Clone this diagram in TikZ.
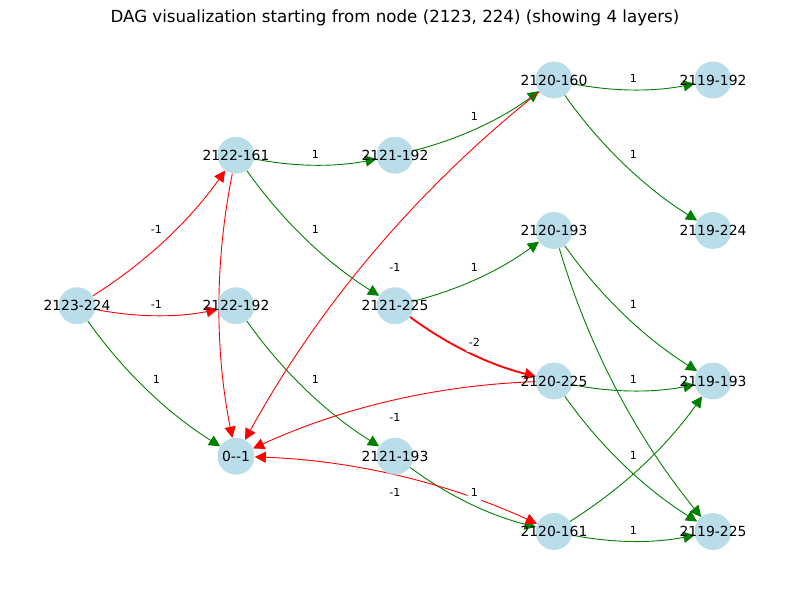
\documentclass[tikz,border=0pt]{standalone}
\usepackage{fontspec}
\setmainfont{DejaVu Sans}
\usetikzlibrary{arrows.meta,calc,backgrounds}
\definecolor{nodeblue}{RGB}{173,216,230}
\definecolor{mplgreen}{RGB}{0,128,0}
\begin{document}
\begin{tikzpicture}[x=0.72pt,y=-0.72pt,
  dagnode/.style={circle,fill=nodeblue,fill opacity=0.85,minimum size=26.6pt,inner sep=0pt},
  nlabel/.style={font=\fontsize{10}{12}\selectfont,inner sep=0pt},
  elabel/.style={fill=white,rounded corners=2pt,inner xsep=2.4pt,inner ysep=2.4pt,
    text height=6pt,text depth=1.8pt,font=\fontsize{8}{9.6}\selectfont},
  tipstyle/.style={-{Triangle[length=8pt,width=8pt]}},
  gedge/.style={draw=mplgreen,line width=0.65pt,tipstyle,bend right=11.3,looseness=0.87},
  redge/.style={draw=red,line width=0.65pt,tipstyle,bend right=11.3,looseness=0.87},
  redgethick/.style={draw=red,line width=1.3pt,tipstyle,bend right=11.3,looseness=0.87}
]
\useasboundingbox (0,0) rectangle (790,590);
% nodes
\node[dagnode,label={[nlabel]center:2123-224}] (a)  at (77,305.75) {};
\node[dagnode,label={[nlabel]center:2122-161}] (b1) at (236,155.25) {};
\node[dagnode,label={[nlabel]center:2122-192}] (b2) at (236,305.75) {};
\node[dagnode,label={[nlabel]center:0-{}-1}]   (z)  at (236,456.25) {};
\node[dagnode,label={[nlabel]center:2121-192}] (c1) at (395,155.25) {};
\node[dagnode,label={[nlabel]center:2121-225}] (c2) at (395,305.75) {};
\node[dagnode,label={[nlabel]center:2121-193}] (c3) at (395,456.25) {};
\node[dagnode,label={[nlabel]center:2120-160}] (d1) at (554,80) {};
\node[dagnode,label={[nlabel]center:2120-193}] (d2) at (554,230.5) {};
\node[dagnode,label={[nlabel]center:2120-225}] (d3) at (554,381) {};
\node[dagnode,label={[nlabel]center:2120-161}] (d4) at (554,531.5) {};
\node[dagnode,label={[nlabel]center:2119-192}] (e1) at (713,80) {};
\node[dagnode,label={[nlabel]center:2119-224}] (e2) at (713,230.5) {};
\node[dagnode,label={[nlabel]center:2119-193}] (e3) at (713,381) {};
\node[dagnode,label={[nlabel]center:2119-225}] (e4) at (713,531.5) {};
% title
\node[font=\fontsize{12}{14}\selectfont] (title) at (395,18) {DAG visualization starting from node (2123, 224) (showing 4 layers)};
% edges
\begin{pgfonlayer}{background}
\fill[white] (0,0) rectangle (790,590);
\draw[redge] (a) to (b1);
\draw[redge] (a) to (b2);
\draw[gedge] (a) to (z);
\draw[gedge] (b1) to (c1);
\draw[gedge] (b1) to (c2);
\draw[redge] (b1) to (z);
\draw[gedge] (b2) to (c3);
\draw[gedge] (c1) to (d1);
\draw[gedge] (c2) to (d2);
\draw[redgethick] (c2) to (d3);
\draw[gedge] (c3) to (d4);
\draw[redge] (d1) to (z);
\draw[redge] (d3) to (z);
\draw[redge,{Triangle[length=8pt,width=8pt]}-{Triangle[length=8pt,width=8pt]}] (d4) to (z);
\draw[gedge] (d1) to (e1);
\draw[gedge] (d1) to (e2);
\draw[gedge] (d2) to (e3);
\draw[gedge] (d2) to (e4);
\draw[gedge] (d3) to (e3);
\draw[gedge] (d3) to (e4);
\draw[gedge] (d4) to (e3);
\draw[gedge] (d4) to (e4);
\end{pgfonlayer}
% edge labels
\node[elabel] (l1)  at ($(a)!0.5!(b1)$) {-1};
\node[elabel] (l2)  at ($(a)!0.5!(b2)$) {-1};
\node[elabel] (l3)  at ($(a)!0.5!(z)$) {1};
\node[elabel] (l4)  at ($(b1)!0.5!(c1)$) {1};
\node[elabel] (l5)  at ($(b1)!0.5!(c2)$) {1};
\node[elabel] (l6)  at ($(b2)!0.5!(c3)$) {1};
\node[elabel] (l7)  at ($(c1)!0.5!(d1)$) {1};
\node[elabel] (l8)  at ($(c2)!0.5!(d2)$) {1};
\node[elabel] (l9)  at ($(c2)!0.5!(d3)$) {-2};
\node[elabel] (l10) at ($(c3)!0.5!(d4)$) {1};
\node[elabel] (l11) at ($(d1)!0.5!(z)$) {-1};
\node[elabel] (l12) at ($(d3)!0.5!(z)$) {-1};
\node[elabel] (l13) at ($(d4)!0.5!(z)$) {-1};
\node[elabel] (l14) at ($(d1)!0.5!(e1)$) {1};
\node[elabel] (l15) at ($(d1)!0.5!(e2)$) {1};
\node[elabel] (l16) at ($(d2)!0.5!(e3)$) {1};
\node[elabel] (l17) at ($(d3)!0.5!(e3)$) {1};
\node[elabel] (l18) at ($(d3)!0.5!(e4)$) {1};
\node[elabel] (l19) at ($(d4)!0.5!(e4)$) {1};
\end{tikzpicture}
\end{document}
